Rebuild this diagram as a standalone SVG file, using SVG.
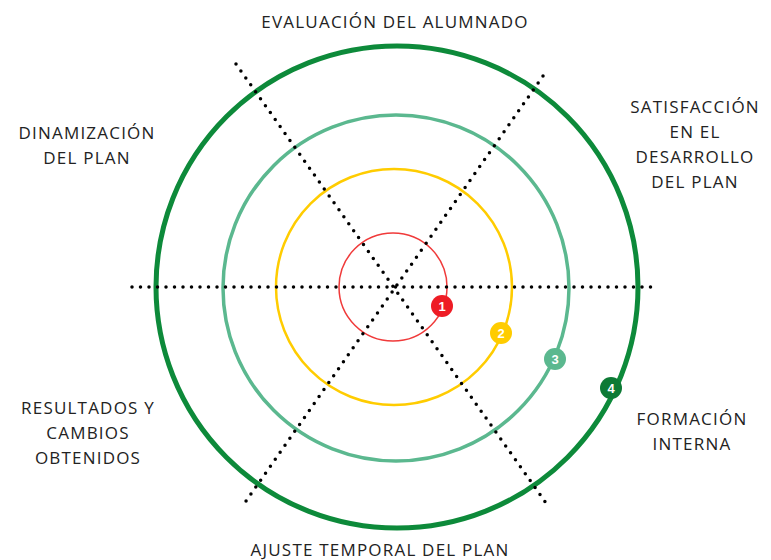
<svg xmlns="http://www.w3.org/2000/svg" width="771" height="560" viewBox="0 0 771 560">
<style>
.lbl{font-family:"Open Sans","Liberation Sans",sans-serif;font-size:17px;fill:#222;text-anchor:middle;letter-spacing:1.2px}
.dot{stroke:#000;stroke-width:3.5;stroke-linecap:round;stroke-dasharray:0 8.5;fill:none}
.ring{fill:none}
.num{font-family:"Liberation Sans",Arial,sans-serif;font-size:13px;font-weight:bold;fill:#fff;text-anchor:middle}
</style>
<rect width="771" height="560" fill="#fff"/>
<g id="rings">
<circle id="ring1" class="ring" cx="393" cy="287" r="54" stroke="#F03A3A" stroke-width="1.5"/>
<circle id="ring2" class="ring" cx="394" cy="287" r="118" stroke="#FFCC00" stroke-width="2.5"/>
<circle id="ring3" class="ring" cx="396" cy="288" r="173" stroke="#5BB88F" stroke-width="3.5"/>
<circle id="ring4" class="ring" cx="397" cy="287" r="241" stroke="#0D8A3A" stroke-width="5"/>
</g>
<g id="connectors">
<line class="dot" x1="132" y1="287" x2="656" y2="287"/>
<line class="dot" x1="236" y1="64" x2="546" y2="503"/>
<line class="dot" x1="543" y1="76" x2="244" y2="504"/>
</g>
<g id="badge1"><circle cx="442" cy="306" r="11" fill="#EE1C25"/><text class="num" x="442" y="310.5">1</text></g>
<g id="badge2"><circle cx="501" cy="333" r="11" fill="#FFCC00"/><text class="num" x="501" y="337.5">2</text></g>
<g id="badge3"><circle cx="555" cy="359" r="11" fill="#5BB88F"/><text class="num" x="555" y="363.5">3</text></g>
<g id="badge4"><circle cx="611" cy="388" r="11" fill="#0D7A35"/><text class="num" x="611" y="392.5">4</text></g>
<g id="label-top"><text class="lbl" x="395" y="28">EVALUACIÓN DEL ALUMNADO</text></g>
<g id="label-tl"><text class="lbl" x="87" y="139">DINAMIZACIÓN</text><text class="lbl" x="87" y="164">DEL PLAN</text></g>
<g id="label-tr"><text class="lbl" x="695" y="113">SATISFACCIÓN</text><text class="lbl" x="695" y="138">EN EL</text><text class="lbl" x="695" y="163">DESARROLLO</text><text class="lbl" x="695" y="188">DEL PLAN</text></g>
<g id="label-bl"><text class="lbl" x="88" y="414">RESULTADOS Y</text><text class="lbl" x="88" y="439">CAMBIOS</text><text class="lbl" x="88" y="464">OBTENIDOS</text></g>
<g id="label-br"><text class="lbl" x="692" y="425">FORMACIÓN</text><text class="lbl" x="692" y="450">INTERNA</text></g>
<g id="label-bottom"><text class="lbl" x="380" y="556">AJUSTE TEMPORAL DEL PLAN</text></g>
</svg>
